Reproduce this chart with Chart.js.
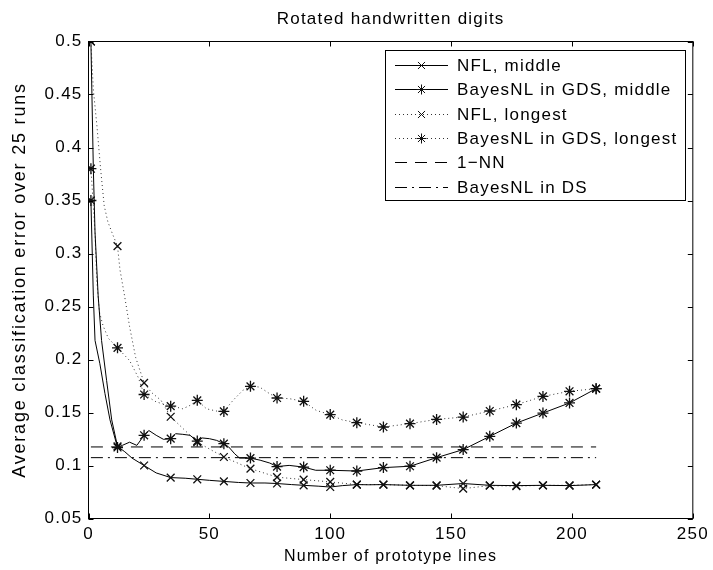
<!DOCTYPE html>
<html>
<head>
<meta charset="utf-8">
<script src="https://cdn.jsdelivr.net/npm/chart.js@4/dist/chart.umd.min.js"></script>
<style>
html,body{margin:0;padding:0;background:#fff;}
#c{display:block;}
</style>
</head>
<body>
<canvas id="c" width="713" height="570"></canvas>
<script>
// ---- data ----
const MARKER_X = [1,12,23,34,45,56,67,78,89,100,111,122,133,144,155,166,177,188,199,210];

const nflMidX = [1,2,2.7,4,5.4,7.5,9.6,12,15,18,23,28,34,40,45,50,56,62,67,73,78,84,89,95,100,105,111,116,122,133,144,155,166,177,188,199,210];
const nflMidY = [0.5,0.38,0.32,0.26,0.218,0.18,0.143,0.118,0.113,0.107,0.100,0.093,0.0886,0.088,0.087,0.086,0.085,0.084,0.0835,0.0835,0.083,0.082,0.0813,0.0805,0.0797,0.081,0.082,0.0818,0.082,0.0813,0.0813,0.083,0.0813,0.081,0.0813,0.081,0.082];

const bMidX = [1,2,2.7,4.7,6.8,8.9,12,14,17,20,23,25,28,31,34,36,39,42,45,47,50,53,56,58,60.5,62.5,67,71,75,78,83,89,94,100,111,122,133,144,155,166,177,188,199,210];
const bMidY = [0.35,0.26,0.218,0.196,0.168,0.143,0.117,0.119,0.122,0.119,0.1285,0.133,0.1285,0.1247,0.1253,0.130,0.1294,0.1285,0.123,0.126,0.1253,0.1237,0.1206,0.1175,0.111,0.107,0.107,0.105,0.1023,0.099,0.1001,0.0985,0.0955,0.0955,0.0948,0.098,0.0993,0.1074,0.115,0.1275,0.14,0.1495,0.159,0.1725];

const nflLongX = [1,2,3.5,5,6.5,8,10,12,13,15,17,19.5,23,26,30,34,45,56,67,78,89,100,111,122,133,144,155,166,177,188,199,210];
const nflLongY = [0.5,0.455,0.42,0.38,0.345,0.33,0.318,0.307,0.285,0.259,0.231,0.202,0.178,0.169,0.1615,0.146,0.122,0.108,0.097,0.089,0.0867,0.0845,0.082,0.082,0.0813,0.081,0.0782,0.081,0.0805,0.0813,0.0813,0.082];

const bLongX = [1,2,2.7,3.4,4.5,6,8.2,12,17,20.6,23,28,34,36.4,39,42,45,48.8,52.9,56,59.8,63.9,67,70.8,74.9,78,83.2,89,94.2,100,105,111,122,133,144,155,166,177,188,199,210];
const bLongY = [0.38,0.345,0.32,0.275,0.245,0.232,0.22,0.211,0.199,0.183,0.167,0.16,0.156,0.155,0.1535,0.1567,0.1615,0.1535,0.1514,0.151,0.1615,0.171,0.1747,0.174,0.1678,0.1637,0.163,0.1605,0.152,0.148,0.143,0.1404,0.1363,0.1395,0.1435,0.1457,0.1514,0.1574,0.1652,0.17,0.1725];

const refX = [1,210];
const oneNN = [0.1175,0.1175];
const bayesDS = [0.1074,0.1074];

const X_TICKS = [0,50,100,150,200,250];
const X_TICK_LABELS = ['0','50','100','150','200','250'];
const Y_TICKS = [0.05,0.1,0.15,0.2,0.25,0.3,0.35,0.4,0.45,0.5];
const Y_TICK_LABELS = ['0.05','0.1','0.15','0.2','0.25','0.3','0.35','0.4','0.45','0.5'];

const SERIES_NAMES = ['NFL, middle','BayesNL in GDS, middle','NFL, longest','BayesNL in GDS, longest','1\u2212NN','BayesNL in DS'];
const TITLE = 'Rotated handwritten digits';
const X_TITLE = 'Number of prototype lines';
const Y_TITLE = 'Average classification error over 25 runs';

// ---- styling ----
const FAM = '"Liberation Sans", Arial, Helvetica, sans-serif';
const SPACING = '1.2px';
const pts = (xs, ys) => xs.map((x, i) => ({x: x, y: ys[i]}));
const markerRadius = (ctx) => (ctx.raw && MARKER_X.includes(ctx.raw.x)) ? 5.5 : 0;

const STYLES = [
  {dash: [], marker: 'crossRot', color: '#000'},
  {dash: [], marker: 'star', color: '#000'},
  {dash: [1,3], marker: 'crossRot', color: '#333'},
  {dash: [1,3], marker: 'star', color: '#333'},
  {dash: [12,8], marker: false, color: '#000'},
  {dash: [12,5,2,5], marker: false, color: '#000'}
];

function ds(i, data) {
  const s = STYLES[i];
  return {
    label: SERIES_NAMES[i],
    data: data,
    showLine: true,
    borderColor: s.color,
    backgroundColor: '#000',
    borderWidth: 1,
    borderDash: s.dash,
    pointStyle: s.marker || 'circle',
    pointRadius: s.marker ? markerRadius : 0,
    pointBorderColor: '#111',
    pointBorderWidth: 1.3,
    pointHoverRadius: 0,
    tension: 0
  };
}

const frame = {
  id: 'frame',
  beforeDraw(chart) { chart.ctx.letterSpacing = SPACING; },
  afterDraw(chart) {
    const ctx = chart.ctx, a = chart.chartArea;
    const xs = chart.scales.x, ys = chart.scales.y;
    ctx.save();
    ctx.strokeStyle = '#000';
    ctx.lineWidth = 1;
    ctx.setLineDash([]);
    ctx.beginPath();
    Y_TICKS.forEach(v => {
      const py = Math.round(ys.getPixelForValue(v)) + 0.5;
      ctx.moveTo(a.left, py); ctx.lineTo(a.left + 5, py);
      ctx.moveTo(a.right, py); ctx.lineTo(a.right - 5, py);
    });
    X_TICKS.forEach(v => {
      const px = Math.round(xs.getPixelForValue(v)) + 0.5;
      ctx.moveTo(px, a.bottom); ctx.lineTo(px, a.bottom - 5);
      ctx.moveTo(px, a.top); ctx.lineTo(px, a.top + 5);
    });
    ctx.stroke();
    ctx.strokeRect(a.left, a.top, a.right - a.left, a.bottom - a.top);

    // y axis title
    ctx.save();
    ctx.translate(20, (a.top + a.bottom) / 2);
    ctx.rotate(-Math.PI / 2);
    ctx.font = '18px ' + FAM;
    ctx.letterSpacing = '1.8px';
    ctx.fillStyle = '#000';
    ctx.textAlign = 'center';
    ctx.textBaseline = 'middle';
    ctx.fillText(Y_TITLE, 0, 0);
    ctx.restore();

    // legend
    const bx = 385.5, by = 50.5, bw = 300, bh = 150;
    ctx.fillStyle = '#fff';
    ctx.fillRect(bx, by, bw, bh);
    ctx.strokeRect(bx, by, bw, bh);
    ctx.font = '17px ' + FAM;
    ctx.letterSpacing = SPACING;
    ctx.textAlign = 'left';
    ctx.textBaseline = 'middle';
    SERIES_NAMES.forEach((name, i) => {
      const s = STYLES[i];
      const y = Math.round(65 + i * 24.3) + 0.5;
      ctx.strokeStyle = s.color;
      ctx.lineWidth = 1;
      ctx.setLineDash(s.dash);
      ctx.beginPath();
      ctx.moveTo(395, y); ctx.lineTo(448, y);
      ctx.stroke();
      ctx.setLineDash([]);
      if (s.marker) {
        ctx.strokeStyle = '#111';
        Chart.helpers.drawPoint(ctx, {pointStyle: s.marker, radius: 5, borderWidth: 1.2, rotation: 0}, 421.5, y);
      }
      ctx.fillStyle = '#000';
      ctx.fillText(name, 457, y + 1);
    });
    ctx.restore();
  }
};

new Chart(document.getElementById('c'), {
  type: 'scatter',
  data: {
    datasets: [
      ds(0, pts(nflMidX, nflMidY)),
      ds(1, pts(bMidX, bMidY)),
      ds(2, pts(nflLongX, nflLongY)),
      ds(3, pts(bLongX, bLongY)),
      ds(4, pts(refX, oneNN)),
      ds(5, pts(refX, bayesDS))
    ]
  },
  options: {
    responsive: false,
    animation: false,
    devicePixelRatio: 1,
    events: [],
    layout: {padding: {left: 0, right: 18.5, top: 0, bottom: 0}},
    plugins: {
      legend: {display: false},
      tooltip: {enabled: false},
      title: {
        display: true,
        fullSize: false,
        text: TITLE,
        color: '#000',
        font: {family: FAM, size: 17, weight: 'normal'},
        padding: {top: 9, bottom: 12.1}
      }
    },
    scales: {
      x: {
        type: 'linear', min: 0, max: 250,
        afterBuildTicks: s => { s.ticks = X_TICKS.map(v => ({value: v})); },
        afterFit: s => { s.height = 51.5; },
        ticks: {
          callback: (v, i) => X_TICK_LABELS[i],
          color: '#000', font: {family: FAM, size: 17},
          padding: 6, maxRotation: 0, autoSkip: false
        },
        grid: {display: false, drawTicks: false},
        border: {display: false},
        title: {
          display: true, text: X_TITLE, color: '#000',
          font: {family: FAM, size: 16}, padding: {top: 0, bottom: 4}
        }
      },
      y: {
        type: 'linear', min: 0.05, max: 0.5,
        afterBuildTicks: s => { s.ticks = Y_TICKS.map(v => ({value: v})); },
        afterFit: s => { s.width = 88.5; },
        ticks: {
          callback: (v, i) => Y_TICK_LABELS[i],
          color: '#000', font: {family: FAM, size: 17},
          padding: 6, autoSkip: false
        },
        grid: {display: false, drawTicks: false},
        border: {display: false},
        title: {display: false}
      }
    }
  },
  plugins: [frame]
});
</script>
</body>
</html>
